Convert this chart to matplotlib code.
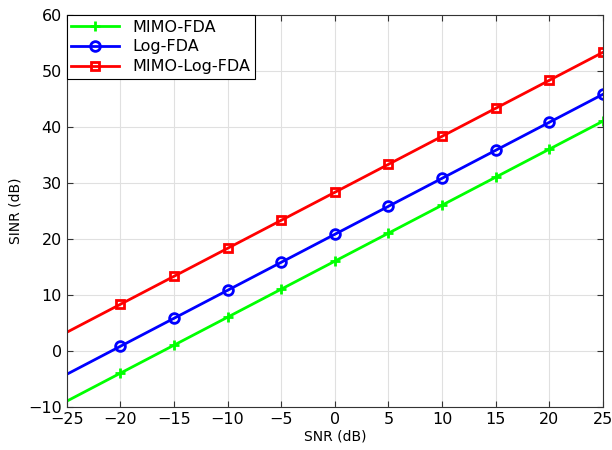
import matplotlib.pyplot as plt

snr = [-25, -20, -15, -10, -5, 0, 5, 10, 15, 20, 25]
mimo_fda = [-9, -4, 1, 6, 11, 16, 21, 26, 31, 36, 41]
log_fda = [-4.2, 0.8, 5.8, 10.8, 15.8, 20.8, 25.8, 30.8, 35.8, 40.8, 45.8]
mimo_log_fda = [3.3, 8.3, 13.3, 18.3, 23.3, 28.3, 33.3, 38.3, 43.3, 48.3, 53.3]

fig = plt.figure(figsize=(6.12, 4.5), dpi=100)
ax = fig.add_axes([0.109, 0.096, 0.876, 0.871])

mark = list(range(1, len(snr)))
ax.plot(snr, mimo_fda, color="#00ff00", lw=2, marker="+", ms=7, mew=2,
        markevery=mark, label="MIMO-FDA")
ax.plot(snr, log_fda, color="#0000ff", lw=2, marker="o", ms=7, mew=2,
        mfc="none", markevery=mark, label="Log-FDA")
ax.plot(snr, mimo_log_fda, color="#ff0000", lw=2, marker="s", ms=5.5, mew=2,
        mfc="none", markevery=mark, label="MIMO-Log-FDA")

ax.set_xlim(-25, 25)
ax.set_ylim(-10, 60)
ax.set_xticks(range(-25, 30, 5))
ax.set_yticks(range(-10, 70, 10))
ax.grid(True, color="#e0e0e0", lw=0.8)
ax.tick_params(direction="in", top=True, right=True, labelsize=11.5, length=4,
               color="#333333")
for s in ax.spines.values():
    s.set_color("#333333")
ax.set_xlabel("SNR (dB)", fontsize=10, labelpad=2)
ax.set_ylabel("SINR (dB)", fontsize=10)

leg = ax.legend(loc="upper left", fontsize=11.5, fancybox=False, framealpha=1,
                edgecolor="black", borderaxespad=0, handlelength=3,
                borderpad=0.3, labelspacing=0.3)
leg.get_frame().set_linewidth(0.8)

fig.savefig("out.png", dpi=100)
